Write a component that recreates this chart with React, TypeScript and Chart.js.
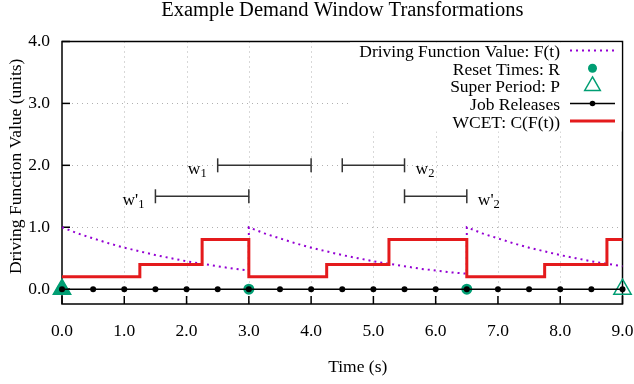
import React, { useEffect, useRef } from 'react';
import { Chart, registerables } from 'chart.js';

Chart.register(...registerables);

const TITLE = 'Example Demand Window Transformations';
const X_TITLE = 'Time (s)';
const Y_TITLE = 'Driving Function Value (units)';

const X_MIN = 0;
const X_MAX = 9;
const Y_MIN = -0.24;
const Y_MAX = 4;
const X_TICKS = [0, 1, 2, 3, 4, 5, 6, 7, 8, 9];
const Y_TICKS = [0, 1, 2, 3, 4];

// Driving function F(t)
const F_TIME = [
  0, 0.25, 0.5, 0.75, 1, 1.25, 1.5, 1.75, 2, 2.25, 2.5, 2.75, 3,
  3, 3.25, 3.5, 3.75, 4, 4.25, 4.5, 4.75, 5, 5.25, 5.5, 5.75, 6, 6.25, 6.5,
  6.5, 6.75, 7, 7.25, 7.5, 7.75, 8, 8.25, 8.5, 8.75, 9,
];
const F_VALUE = [
  1.0, 0.9, 0.82, 0.74, 0.67, 0.61, 0.55, 0.5, 0.45, 0.41, 0.37, 0.33, 0.3,
  1.0, 0.9, 0.82, 0.74, 0.67, 0.61, 0.55, 0.5, 0.45, 0.41, 0.37, 0.33, 0.3, 0.27, 0.25,
  1.0, 0.9, 0.82, 0.74, 0.67, 0.61, 0.55, 0.5, 0.45, 0.41, 0.37,
];

// WCET step function C(F(t))
const WCET_TIME = [0, 1.25, 2.25, 3, 4.25, 5.25, 6.5, 7.75, 8.75, 9];
const WCET_VALUE = [0.2, 0.4, 0.8, 0.2, 0.4, 0.8, 0.2, 0.4, 0.8, 0.8];

const RESET_TIME = [0, 3, 6.5];
const PERIOD_TIME = [0, 9];
const JOB_TIME = [0, 0.5, 1, 1.5, 2, 2.5, 3, 3.5, 4, 4.5, 5, 5.5, 6, 6.5, 7, 7.5, 8, 8.5, 9];

// Demand windows
const WINDOW_BASE = ['w', 'w', "w'", "w'"];
const WINDOW_SUB = ['1', '2', '1', '2'];
const WINDOW_START = [2.5, 4.5, 1.5, 5.5];
const WINDOW_END = [4.0, 5.5, 3.0, 6.5];
const WINDOW_LEVEL = [2.0, 2.0, 1.5, 1.5];
const WINDOW_SIDE = ['left', 'right', 'left', 'right'];

const LEGEND_LABELS = [
  'Driving Function Value: F(t)',
  'Reset Times: R',
  'Super Period: P',
  'Job Releases',
  'WCET: C(F(t))',
];

const PURPLE = '#9400d3';
const GREEN = '#009e73';
const RED = '#e41a1c';
const BLACK = '#000000';
const WIN = '#333333';
const GRID = 'rgba(150,150,150,0.75)';
const FONT = "'Liberation Serif', 'Times New Roman', serif";
const FS = 17.5;

const decorPlugin = {
  id: 'decor',
  beforeDatasetsDraw(chart: any) {
    const { ctx, chartArea, scales } = chart;
    const { left, right, top, bottom } = chartArea;
    const xs = scales.x;
    const ys = scales.y;
    ctx.save();
    // grid
    ctx.strokeStyle = GRID;
    ctx.lineWidth = 1;
    ctx.setLineDash([1, 4]);
    X_TICKS.forEach((v) => {
      if (v === X_MIN || v === X_MAX) return;
      const px = Math.round(xs.getPixelForValue(v)) + 0.5;
      ctx.beginPath();
      ctx.moveTo(px, top);
      ctx.lineTo(px, bottom);
      ctx.stroke();
    });
    Y_TICKS.forEach((v) => {
      if (v === Y_MAX || v === 0) return;
      const py = Math.round(ys.getPixelForValue(v)) + 0.5;
      ctx.beginPath();
      ctx.moveTo(left, py);
      ctx.lineTo(right, py);
      ctx.stroke();
    });
    ctx.setLineDash([]);
    // frame
    ctx.strokeStyle = BLACK;
    ctx.lineWidth = 1.5;
    ctx.strokeRect(left, top, right - left, bottom - top);
    // inward ticks
    ctx.lineWidth = 1.5;
    X_TICKS.forEach((v) => {
      const px = xs.getPixelForValue(v);
      ctx.beginPath();
      ctx.moveTo(px, bottom);
      ctx.lineTo(px, bottom - 8);
      ctx.stroke();
    });
    Y_TICKS.forEach((v) => {
      const py = ys.getPixelForValue(v);
      ctx.beginPath();
      ctx.moveTo(left, py);
      ctx.lineTo(left + 8, py);
      ctx.stroke();
    });
    ctx.restore();
  },
  afterDatasetsDraw(chart: any) {
    const { ctx, chartArea, scales } = chart;
    const { left, right, top, bottom } = chartArea;
    const xs = scales.x;
    const ys = scales.y;
    ctx.save();
    ctx.fillStyle = BLACK;
    // window labels
    WINDOW_BASE.forEach((base, i) => {
      const y = ys.getPixelForValue(WINDOW_LEVEL[i]);
      ctx.font = `${FS}px ${FONT}`;
      const wBase = ctx.measureText(base).width;
      ctx.font = `12.5px ${FONT}`;
      const wSub = ctx.measureText(WINDOW_SUB[i]).width;
      const total = wBase + wSub;
      let x0: number;
      if (WINDOW_SIDE[i] === 'left') {
        x0 = xs.getPixelForValue(WINDOW_START[i]) - 11 - total;
      } else {
        x0 = xs.getPixelForValue(WINDOW_END[i]) + 11;
      }
      ctx.textAlign = 'left';
      ctx.textBaseline = 'alphabetic';
      ctx.font = `${FS}px ${FONT}`;
      ctx.fillText(base, x0, y + 8.5);
      ctx.font = `12.5px ${FONT}`;
      ctx.fillText(WINDOW_SUB[i], x0 + wBase, y + 12);
    });

    // legend box
    ctx.fillStyle = '#ffffff';
    ctx.fillRect(350, top + 1, right - 350 - 1, 89);
    const baseY = [57, 74.8, 92.4, 110, 127.5];
    const textRight = 560;
    const s0 = 570;
    const s1 = 615;
    const sc = (s0 + s1) / 2;
    ctx.font = `${FS}px ${FONT}`;
    ctx.textAlign = 'right';
    ctx.textBaseline = 'alphabetic';
    LEGEND_LABELS.forEach((label, i) => {
      const by = baseY[i];
      const my = by - 6.5;
      ctx.fillStyle = BLACK;
      ctx.fillText(label, textRight, by);
      ctx.setLineDash([]);
      if (i === 0) {
        ctx.strokeStyle = PURPLE;
        ctx.lineWidth = 2;
        ctx.setLineDash([2, 4]);
        ctx.beginPath();
        ctx.moveTo(s0, my);
        ctx.lineTo(s1, my);
        ctx.stroke();
        ctx.setLineDash([]);
      } else if (i === 1) {
        ctx.fillStyle = GREEN;
        ctx.beginPath();
        ctx.arc(sc, my, 4.5, 0, Math.PI * 2);
        ctx.fill();
      } else if (i === 2) {
        const r = 9;
        ctx.strokeStyle = GREEN;
        ctx.lineWidth = 1.5;
        ctx.beginPath();
        ctx.moveTo(sc, my - r);
        ctx.lineTo(sc + r * 0.866, my + r / 2);
        ctx.lineTo(sc - r * 0.866, my + r / 2);
        ctx.closePath();
        ctx.stroke();
      } else if (i === 3) {
        ctx.strokeStyle = BLACK;
        ctx.lineWidth = 1.5;
        ctx.beginPath();
        ctx.moveTo(s0, my);
        ctx.lineTo(s1, my);
        ctx.stroke();
        ctx.fillStyle = BLACK;
        ctx.beginPath();
        ctx.arc(sc, my, 2.8, 0, Math.PI * 2);
        ctx.fill();
      } else {
        ctx.strokeStyle = RED;
        ctx.lineWidth = 3;
        ctx.beginPath();
        ctx.moveTo(s0, my);
        ctx.lineTo(s1, my);
        ctx.stroke();
      }
    });

    // titles
    ctx.fillStyle = BLACK;
    ctx.textAlign = 'center';
    ctx.textBaseline = 'alphabetic';
    ctx.font = `20.5px ${FONT}`;
    ctx.fillText(TITLE, (left + right) / 2, 16);
    ctx.font = `${FS}px ${FONT}`;
    ctx.fillText(X_TITLE, (left + right) / 2 + 15.5, 372);
    ctx.translate(20.5, (top + bottom) / 2 - 6.5);
    ctx.rotate(-Math.PI / 2);
    ctx.fillText(Y_TITLE, 0, 0);
    ctx.restore();
  },
};

export default function App() {
  const ref = useRef<HTMLCanvasElement | null>(null);

  useEffect(() => {
    document.body.style.margin = '0';
    const canvas = ref.current;
    if (!canvas) return;

    const windowSets = WINDOW_BASE.map((_, i) => ({
      label: `window${i}`,
      data: [
        { x: WINDOW_START[i], y: WINDOW_LEVEL[i] },
        { x: WINDOW_END[i], y: WINDOW_LEVEL[i] },
      ],
      borderColor: WIN,
      borderWidth: 1.5,
      pointStyle: 'line',
      pointRotation: 90,
      pointRadius: 7,
      pointBorderColor: WIN,
      pointBorderWidth: 1.5,
      order: 6,
      clip: false,
    }));

    const chart = new Chart(canvas, {
      type: 'line',
      data: {
        datasets: [
          {
            label: 'WCET: C(F(t))',
            data: WCET_TIME.map((t, i) => ({ x: t, y: WCET_VALUE[i] })),
            borderColor: RED,
            borderWidth: 3,
            stepped: 'before',
            pointRadius: 0,
            order: 0,
            clip: false,
          },
          {
            label: 'Job Releases',
            data: JOB_TIME.map((t) => ({ x: t, y: 0 })),
            borderColor: BLACK,
            borderWidth: 1.5,
            pointRadius: 3,
            pointBackgroundColor: BLACK,
            pointBorderColor: BLACK,
            pointBorderWidth: 0,
            order: 1,
            clip: false,
          },
          {
            label: 'Super Period: P',
            data: PERIOD_TIME.map((t) => ({ x: t, y: 0 })),
            showLine: false,
            pointStyle: 'triangle',
            pointRadius: 10,
            pointBorderColor: GREEN,
            pointBackgroundColor: [GREEN, 'rgba(0,0,0,0)'],
            pointBorderWidth: 1.5,
            order: 2,
            clip: false,
          },
          {
            label: 'Reset Times: R',
            data: RESET_TIME.map((t) => ({ x: t, y: 0 })),
            showLine: false,
            pointRadius: 5.5,
            pointBackgroundColor: GREEN,
            pointBorderColor: GREEN,
            pointBorderWidth: 0,
            order: 3,
            clip: false,
          },
          {
            label: 'Driving Function Value: F(t)',
            data: F_TIME.map((t, i) => ({ x: t, y: F_VALUE[i] })),
            borderColor: PURPLE,
            borderWidth: 2,
            borderDash: [2, 4],
            pointRadius: 0,
            tension: 0,
            order: 4,
            clip: false,
          },
          ...windowSets,
        ] as any,
      },
      options: {
        animation: false,
        responsive: false,
        devicePixelRatio: 1,
        events: [],
        layout: { padding: { left: 0, right: 10, top: 41.5, bottom: 0 } },
        plugins: {
          legend: { display: false },
          tooltip: { enabled: false },
          title: { display: false },
        },
        scales: {
          x: {
            type: 'linear',
            min: X_MIN,
            max: X_MAX,
            afterBuildTicks: (s: any) => {
              s.ticks = X_TICKS.map((v) => ({ value: v }));
            },
            afterFit: (s: any) => {
              s.height = 80;
              s.paddingLeft = 0;
              s.paddingRight = 0;
            },
            ticks: {
              callback: (v: any) => Number(v).toFixed(1),
              font: { family: FONT, size: FS },
              color: BLACK,
              padding: 16.5,
              maxRotation: 0,
              autoSkip: false,
            },
            grid: { display: false, drawTicks: false, tickLength: 0 },
            border: { display: false },
          },
          y: {
            type: 'linear',
            min: Y_MIN,
            max: Y_MAX,
            afterBuildTicks: (s: any) => {
              s.ticks = Y_TICKS.map((v) => ({ value: v }));
            },
            afterFit: (s: any) => {
              s.width = 62;
            },
            ticks: {
              callback: (v: any) => Number(v).toFixed(1),
              font: { family: FONT, size: FS },
              color: BLACK,
              padding: 12,
              autoSkip: false,
            },
            grid: { display: false, drawTicks: false, tickLength: 0 },
            border: { display: false },
          },
        },
      } as any,
      plugins: [decorPlugin],
    });

    return () => {
      chart.destroy();
    };
  }, []);

  return (
    <div style={{ width: 634, height: 384 }}>
      <canvas ref={ref} width={634} height={384} style={{ display: 'block' }} />
    </div>
  );
}
